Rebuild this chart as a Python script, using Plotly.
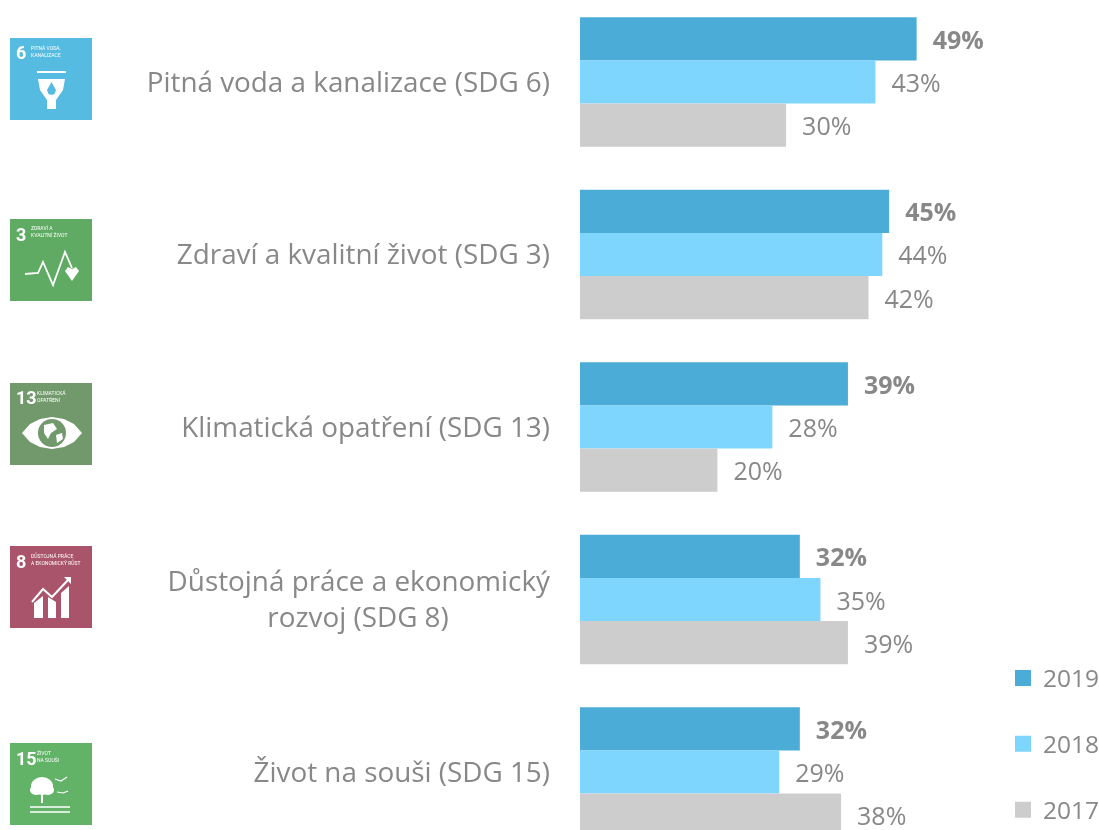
import plotly.graph_objects as go

# ---- data ----
categories = [
    "Pitná voda a kanalizace (SDG 6)",
    "Zdraví a kvalitní život (SDG 3)",
    "Klimatická opatření (SDG 13)",
    "Důstojná práce a ekonomický<br>rozvoj (SDG 8)" + "\u00a0" * 14,
    "Život na souši (SDG 15)",
]
values_2019 = [49, 45, 39, 32, 32]
values_2018 = [43, 44, 28, 35, 29]
values_2017 = [30, 42, 20, 39, 38]
years = ["2019", "2018", "2017"]
colors = ["#4BACD8", "#7ED6FF", "#CDCDCD"]
icon_numbers = ["6", "3", "13", "8", "15"]
icon_titles = [
    "PITNÁ VODA,<br>KANALIZACE",
    "ZDRAVÍ A<br>KVALITNÍ ŽIVOT",
    "KLIMATICKÁ<br>OPATŘENÍ",
    "DŮSTOJNÁ PRÁCE<br>A EKONOMICKÝ RŮST",
    "ŽIVOT<br>NA SOUŠI",
]
icon_colors = ["#55BBE0", "#5FAB63", "#71996C", "#A9546B", "#62B368"]
icon_tops = [38, 219, 383, 546, 743]

W, H = 1099, 830
M_LEFT = 580
FONT = "Open Sans, sans-serif"
GREY = "#888888"
GAP = "\u00a0\u00a0"

fig = go.Figure()
series = [values_2019, values_2018, values_2017]
for i, (year, vals, col) in enumerate(zip(years, series, colors)):
    label = [f"{GAP}<b>{v}%</b>" if i == 0 else f"{GAP}{v}%" for v in vals]
    fig.add_trace(go.Bar(
        y=categories, x=vals, name=year, orientation="h",
        marker=dict(color=col, line=dict(width=0)),
        text=label, textposition="outside", textangle=0, cliponaxis=False,
        textfont=dict(family=FONT, size=25, color=GREY),
        showlegend=False, hoverinfo="x+y",
    ))
# legend entries (larger square keys than bar keys allow)
for year, col in zip(years, colors):
    fig.add_trace(go.Scatter(
        x=[None], y=[None], mode="markers", name=year, legendgroup=year,
        marker=dict(symbol="square", size=16, color=col),
    ))


def px(x):
    return (x - M_LEFT) / (W - M_LEFT)


def py(y):
    return 1 - y / H


def path(points, left, top, close=True):
    d = "M" + " L".join(f"{px(left + a):.5f},{py(top + b):.5f}" for a, b in points)
    return d + (" Z" if close else "")


shapes = []
annotations = []


def add_poly(points, left, top, fill="white"):
    shapes.append(dict(type="path", xref="paper", yref="paper", path=path(points, left, top),
                       fillcolor=fill, line=dict(width=0), layer="above"))


def add_line(points, left, top, width=2, color="white"):
    shapes.append(dict(type="path", xref="paper", yref="paper", path=path(points, left, top, False),
                       line=dict(width=width, color=color), layer="above"))


def add_circle(cx, cy, rx, ry, left, top, fill="white"):
    shapes.append(dict(type="circle", xref="paper", yref="paper",
                       x0=px(left + cx - rx), x1=px(left + cx + rx),
                       y0=py(top + cy + ry), y1=py(top + cy - ry),
                       fillcolor=fill, line=dict(width=0), layer="above"))


LEFT = 10
SIZE = 82
for num, title, col, top in zip(icon_numbers, icon_titles, icon_colors, icon_tops):
    shapes.append(dict(type="rect", xref="paper", yref="paper",
                       x0=px(LEFT), x1=px(LEFT + SIZE), y0=py(top + SIZE), y1=py(top),
                       fillcolor=col, line=dict(width=0), layer="above"))
    annotations.append(dict(text=f"<b>{num}</b>", xref="paper", yref="paper", x=px(LEFT + 5),
                            y=py(top + 15), xanchor="left", yanchor="middle", showarrow=False,
                            borderpad=0, font=dict(family="Roboto, sans-serif", size=18, color="white")))
    annotations.append(dict(text=title, xref="paper", yref="paper",
                            x=px(LEFT + (26 if len(num) > 1 else 20)), y=py(top + 13),
                            xanchor="left", yanchor="middle", align="left", showarrow=False,
                            borderpad=0, font=dict(family="Roboto, sans-serif", size=5, color="white")))

# icon 6: glass with drop
t, c = icon_tops[0], icon_colors[0]
add_line([(27, 34), (56, 34)], LEFT, t, 2)
add_poly([(28, 41), (55, 41), (53, 52), (46, 62), (46, 71), (37, 71), (37, 62), (30, 52)], LEFT, t)
add_poly([(41.5, 44), (46, 52), (44.5, 56), (41.5, 57), (38.5, 56), (37, 52)], LEFT, t, c)

# icon 3: pulse and heart
t = icon_tops[1]
add_line([(15, 55), (28, 54), (33, 43), (43, 66), (55, 33), (62, 49)], LEFT, t, 1.8)
add_poly([(55, 52), (58, 48), (62, 50), (66, 48), (69, 52), (62, 62)], LEFT, t)

# icon 13: eye with globe
t, c = icon_tops[2], icon_colors[2]
add_poly([(12, 50), (20, 41), (30, 36), (42, 34), (54, 36), (64, 41), (72, 50),
          (64, 59), (54, 64), (42, 66), (30, 64), (20, 59)], LEFT, t)
add_circle(42, 50, 14, 14, LEFT, t, c)
add_poly([(34, 42), (43, 40), (47, 46), (41, 50), (38, 56), (34, 50)], LEFT, t)
add_poly([(46, 52), (52, 50), (53, 56), (47, 60)], LEFT, t)

# icon 8: rising bars with arrow
t = icon_tops[3]
add_line([(22, 56), (33, 43), (42, 51), (58, 34)], LEFT, t, 2)
add_poly([(54, 31), (61, 31), (61, 38)], LEFT, t)
add_poly([(24, 57), (33, 50), (33, 72), (24, 72)], LEFT, t)
add_poly([(38, 51), (46, 56), (46, 72), (38, 72)], LEFT, t)
add_poly([(51, 47), (59, 40), (59, 72), (51, 72)], LEFT, t)

# icon 15: tree, birds, ground
t = icon_tops[4]
add_circle(32, 43, 11, 9, LEFT, t)
add_circle(26, 47, 6, 5, LEFT, t)
add_circle(38, 47, 6, 5, LEFT, t)
add_line([(32, 50), (32, 60)], LEFT, t, 2)
add_line([(20, 64), (60, 64)], LEFT, t, 1.5)
add_line([(20, 69), (60, 69)], LEFT, t, 1.5)
add_line([(45, 36), (51, 38), (57, 34)], LEFT, t, 1.2)
add_line([(47, 49), (53, 50), (58, 48)], LEFT, t, 1.2)

fig.update_layout(
    width=W, height=H, autosize=False,
    margin=dict(l=M_LEFT, r=0, t=0, b=0, pad=0, autoexpand=False),
    paper_bgcolor="white", plot_bgcolor="white",
    barmode="group", bargap=0.25, bargroupgap=0,
    font=dict(family=FONT, color=GREY),
    showlegend=True,
    legend=dict(x=px(1003), xanchor="left", y=py(655.5), yanchor="top",
                font=dict(family=FONT, size=24.5, color=GREY),
                traceorder="grouped", tracegroupgap=31, itemwidth=30,
                bgcolor="rgba(0,0,0,0)"),
    xaxis=dict(range=[0, (W - M_LEFT) / 6.87], visible=False, fixedrange=True),
    yaxis=dict(type="category", categoryorder="array", categoryarray=categories,
               range=[4.336, -0.475], showline=False, showgrid=False, zeroline=False,
               ticks="", ticklabelstandoff=29, automargin=False,
               tickfont=dict(family=FONT, size=27.85, color=GREY)),
    shapes=shapes, annotations=annotations,
)
fig.write_html(
    "out.html", config=dict(displayModeBar=False),
    post_script=("document.body.style.margin='0';document.body.style.overflow='hidden';"
                 "document.querySelector('.plot-container').style.filter='blur(0.6px)';"),
)
